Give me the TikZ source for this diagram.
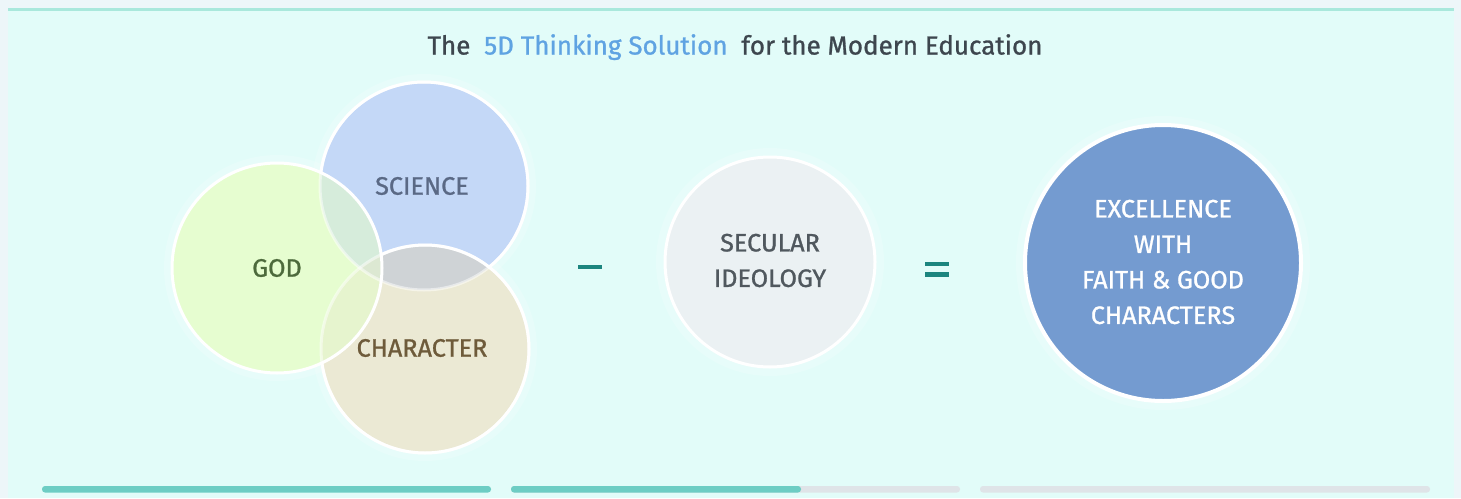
\documentclass[tikz,border=0pt]{standalone}
\usepackage{fontspec}
\setmainfont{Fira Sans}[FakeBold=1]
\definecolor{outerbg}{HTML}{EDF6F9}
\definecolor{panelbg}{HTML}{E2FCF9}
\definecolor{topline}{HTML}{A9E8DC}
\definecolor{titlegray}{HTML}{3D464E}
\definecolor{titleblue}{HTML}{5FA3E2}
\definecolor{scifill}{HTML}{C4D8F7}
\definecolor{godfill}{HTML}{E6FDD0}
\definecolor{charfill}{HTML}{EBE9D4}
\definecolor{scichar}{HTML}{CFD3D6}
\definecolor{scigod}{HTML}{D6ECDB}
\definecolor{chargod}{HTML}{E6F4CE}
\definecolor{triplefill}{HTML}{DCE8D2}
\definecolor{scitext}{HTML}{5A6985}
\definecolor{godtext}{HTML}{4D6A3C}
\definecolor{chartext}{HTML}{6E5B3A}
\definecolor{secfill}{HTML}{EBF1F3}
\definecolor{sectext}{HTML}{50585E}
\definecolor{excfill}{HTML}{749BD0}
\definecolor{opteal}{HTML}{1C857F}
\definecolor{barteal}{HTML}{6DCDC4}
\definecolor{bargray}{HTML}{DFE4E8}
\tikzset{
  vcirc/.style={circle, minimum size=#1, inner sep=0pt, outer sep=0pt},
  lbl/.style={font=\fontsize{25.2}{35.5}\selectfont, align=center},
  rim/.style={draw=white, line width=3pt},
  faintrim/.style={draw=white, draw opacity=0.5, line width=3pt},
  glow/.style={draw=white, draw opacity=0.18, line width=8pt},
  opsign/.style={draw=opteal, line width=4.5pt},
  barbase/.style={fill=bargray, rounded corners=3pt},
  barfull/.style={fill=barteal, rounded corners=3pt},
}
\begin{document}
\begin{tikzpicture}[x=1pt,y=-1pt]
\useasboundingbox (0,0) rectangle (1461,498);
\fill[outerbg] (0,0) rectangle (1461,498);
\fill[panelbg] (8,9) rectangle (1454,498);
\draw[topline, line width=3pt] (8,9.5) -- (1454,9.5);

% title
\node[anchor=base, font=\fontsize{26}{30}\selectfont, text=titlegray, inner sep=0pt] (title) at (735,54.5)
  {The\ \ \textcolor{titleblue}{5D Thinking Solution}\ \ for the Modern Education};

% glows
\draw[glow] (424,186) circle[radius=108pt];
\draw[glow] (425,349) circle[radius=108pt];
\draw[glow] (277,268) circle[radius=109pt];
\draw[glow] (770,262) circle[radius=110pt];
\draw[glow] (1163,263) circle[radius=143pt];

% venn fills
\node[vcirc=208pt, fill=scifill] (sci) at (424,186) {};
\node[vcirc=208pt, fill=charfill] (chr) at (425,349) {};
\node[vcirc=210pt, fill=godfill] (god) at (277,268) {};
\begin{scope}
  \clip (sci.center) circle[radius=104pt];
  \fill[scichar] (chr.center) circle[radius=104pt];
  \fill[scigod] (god.center) circle[radius=105pt];
  \clip (chr.center) circle[radius=104pt];
  \fill[triplefill] (god.center) circle[radius=105pt];
\end{scope}
\begin{scope}[even odd rule]
  \clip (chr.center) circle[radius=104pt];
  \clip (0,0) rectangle (1461,498) (sci.center) circle[radius=104pt];
  \fill[chargod] (god.center) circle[radius=105pt];
\end{scope}
% venn rims
\path[faintrim] (sci.center) circle[radius=104pt];
\path[faintrim] (chr.center) circle[radius=104pt];
\begin{scope}[even odd rule]
  \clip (0,0) rectangle (1461,498) (god.center) circle[radius=105pt];
  \clip (0,0) rectangle (1461,498) (chr.center) circle[radius=104pt];
  \path[rim] (sci.center) circle[radius=104pt];
\end{scope}
\begin{scope}[even odd rule]
  \clip (0,0) rectangle (1461,498) (god.center) circle[radius=105pt];
  \path[rim] (chr.center) circle[radius=104pt];
\end{scope}
\path[rim] (god.center) circle[radius=105pt];

\node[lbl, text=scitext] (scil) at (422,186) {SCIENCE};
\node[lbl, text=godtext] (godl) at (277,268) {GOD};
\node[lbl, text=chartext] (chrl) at (422,348) {CHARACTER};

% minus
\coordinate (m1) at (578,267);
\coordinate (m2) at (602,267);
\draw[opsign] (m1) -- (m2);

% secular
\node[vcirc=210pt, fill=secfill, rim] (sec) at (770,262) {};
\node[lbl, text=sectext] (secl) at (770,260.5) {SECULAR\\IDEOLOGY};

% equals
\coordinate (e1) at (925,264);
\coordinate (e2) at (949,264);
\coordinate (e3) at (925,274.5);
\coordinate (e4) at (949,274.5);
\draw[opsign] (e1) -- (e2);
\draw[opsign] (e3) -- (e4);

% result
\node[vcirc=276pt, fill=excfill, draw=white, line width=4pt] (exc) at (1163,263) {};
\node[lbl, text=white] (excl) at (1163,262) {EXCELLENCE\\WITH\\FAITH \& GOOD\\CHARACTERS};

% progress bars
\fill[barfull] (42,486) rectangle (491,492.5);
\fill[barbase] (511,486) rectangle (960,492.5);
\fill[barfull] (511,486) rectangle (801,492.5);
\fill[barbase] (980,486) rectangle (1430,492.5);
\end{tikzpicture}
\end{document}
